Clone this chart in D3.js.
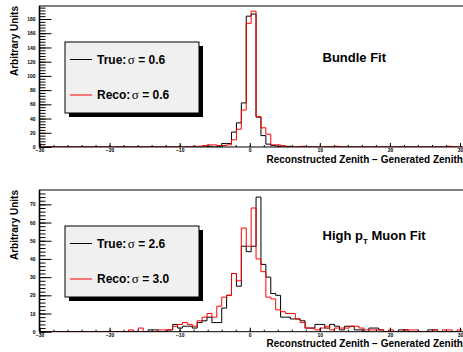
<!DOCTYPE html>
<html>
<head>
<meta charset="utf-8">
<script src="https://cdn.jsdelivr.net/npm/d3@7"></script>
<style>
  body { margin: 0; background: #fff; }
  svg { display: block; font-family: "Liberation Sans", Arial, sans-serif; font-weight: bold; }
</style>
</head>
<body>
<script>
// histogram binning (degrees)
const binLow = -29.9
const binWidth = 0.7
const xTicks = [-30, -20, -10, 0, 10, 20, 30]

const fitNames = ["Bundle Fit", "High pT Muon Fit"]
const sigmaTrue = ["0.6", "2.6"]
const sigmaReco = ["0.6", "3.0"]

// bundle fit, 86 bins
const bundleTrue = [
    0, 0, 0, 0, 0, 0, 0, 0, 0, 0,
    0, 0, 0, 0, 0, 0, 0, 0, 0, 0,
    0, 0, 0, 0, 0, 0, 0, 0, 0, 0,
    0, 0, 0, 0, 1, 0, 1, 5, 5, 21,
    34, 62, 184, 187, 42, 16, 4, 2, 1, 0,
    1, 0, 0, 0, 0, 0, 0, 0, 0, 0,
    0, 0, 0, 0, 0, 0, 0, 0, 0, 0,
    0, 0, 0, 0, 0, 0, 0, 0, 0, 0,
    0, 0, 0, 0, 0, 0
]
const bundleReco = [
    0, 0, 0, 0, 0, 0, 0, 0, 0, 0,
    0, 0, 0, 0, 0, 0, 0, 0, 0, 0,
    0, 0, 0, 0, 0, 0, 0, 0, 0, 0,
    0, 1, 1, 2, 3, 3, 2, 2, 3, 10,
    25, 52, 174, 191, 43, 27, 18, 3, 3, 2,
    0, 0, 0, 1, 0, 0, 0, 0, 0, 0,
    1, 0, 0, 0, 0, 0, 0, 0, 0, 0,
    0, 0, 0, 0, 0, 0, 0, 0, 0, 0,
    0, 0, 0, 1, 0, 0
]

// high pT muon fit, 86 bins
const muonTrue = [
    0, 0, 0, 0, 0, 0, 0, 0, 0, 0,
    0, 0, 0, 0, 0, 0, 0, 0, 0, 0,
    0, 0, 1, 1, 0, 0, 1, 4, 2, 3,
    3, 2, 5, 6, 8, 5, 5, 13, 20, 32,
    25, 47, 44, 47, 74, 37, 30, 21, 20, 8,
    8, 7, 7, 6, 2, 2, 4, 4, 2, 4,
    3, 1, 3, 3, 1, 1, 0, 2, 2, 1,
    0, 0, 0, 1, 1, 0, 0, 0, 0, 1,
    1, 0, 0, 0, 0, 0
]
const muonReco = [
    0, 0, 0, 0, 0, 0, 0, 0, 0, 0,
    0, 0, 0, 0, 0, 0, 0, 0, 1, 0,
    2, 0, 0, 0, 1, 1, 1, 3, 4, 5,
    4, 3, 6, 8, 10, 8, 14, 19, 20, 32,
    28, 57, 47, 68, 40, 33, 19, 18, 12, 11,
    10, 10, 7, 5, 2, 2, 1, 2, 3, 1,
    2, 2, 2, 3, 3, 2, 1, 1, 1, 1,
    0, 1, 0, 0, 1, 1, 1, 0, 0, 0,
    1, 0, 1, 1, 0, 1
]

const panels = [
    { top: 6, bottom: 147, yMax: 198.3, major: 20, minor: 4, t: bundleTrue, r: bundleReco, titleY: 61.5 },
    { top: 190, bottom: 331.7, yMax: 77.9, major: 10, minor: 2, t: muonTrue, r: muonReco, titleY: 240 }
]

const svg = d3.select("body").append("svg")
    .attr("width", 463)
    .attr("height", 352)

const x = d3.scaleLinear().domain([-30, 30]).range([39.5, 460])
const frameRight = 472

panels.forEach((p, i) => {
    const y = d3.scaleLinear().domain([0, p.yMax]).range([p.bottom, p.top])
    const g = svg.append("g")

    g.append("clipPath").attr("id", "clip" + i)
        .append("rect")
        .attr("x", x(-30)).attr("y", p.top)
        .attr("width", frameRight - x(-30)).attr("height", p.bottom - p.top)

    // histograms as steps
    const line = d3.line()
        .x((d) => x(d[0]))
        .y((d) => y(d[1]))
        .curve(d3.curveStepAfter)
    const steps = (vals) => vals.map((v, k) => [binLow + k * binWidth, v])
        .concat([[binLow + vals.length * binWidth, vals[vals.length - 1]]])

    g.append("path")
        .attr("d", line(steps(p.t)))
        .attr("clip-path", `url(#clip${i})`)
        .style("fill", "none").style("stroke", "#000").style("stroke-width", 1)
    g.append("path")
        .attr("d", line(steps(p.r)))
        .attr("clip-path", `url(#clip${i})`)
        .style("fill", "none").style("stroke", "#f00").style("stroke-width", 1)

    // frame
    g.append("rect")
        .attr("x", x(-30)).attr("y", p.top)
        .attr("width", frameRight - x(-30)).attr("height", p.bottom - p.top)
        .style("fill", "none").style("stroke", "#000").style("stroke-width", 1)
    g.append("line")
        .attr("x1", x(-30)).attr("x2", x(-30))
        .attr("y1", p.top).attr("y2", p.bottom)
        .style("stroke", "#000").style("stroke-width", 1.6)

    // y axis
    const yMajorTicks = d3.range(0, p.yMax, p.major)
    const yMinorTicks = d3.range(0, p.yMax, p.minor)
    g.append("g")
        .attr("transform", `translate(${x(-30)},0)`)
        .call(d3.axisLeft(y).tickValues(yMinorTicks).tickSize(-6).tickFormat(""))
        .call((a) => a.select(".domain").remove())
    g.append("g")
        .attr("transform", `translate(${x(-30)},0)`)
        .call(d3.axisLeft(y).tickValues(yMajorTicks).tickSize(-12).tickPadding(4))
        .call((a) => a.select(".domain").remove())
        .call((a) => a.selectAll("text").style("font-size", "5px").style("font-weight", "bold")
            .style("font-family", "Liberation Sans, Arial, sans-serif"))

    // x axis
    g.append("g")
        .attr("transform", `translate(0,${p.bottom})`)
        .call(d3.axisBottom(x).tickValues(d3.range(-30, 31, 2)).tickSize(-2).tickFormat(""))
        .call((a) => a.select(".domain").remove())
    g.append("g")
        .attr("transform", `translate(0,${p.bottom})`)
        .call(d3.axisBottom(x).tickValues(xTicks).tickSize(-4).tickPadding(1.8))
        .call((a) => a.select(".domain").remove())
        .call((a) => a.selectAll("text").style("font-size", "5px").style("font-weight", "bold")
            .style("font-family", "Liberation Sans, Arial, sans-serif"))

    // axis titles
    g.append("text")
        .attr("x", 266.5).attr("y", p.bottom + 15.5)
        .style("font-size", "10px")
        .text("Reconstructed Zenith \u2212 Generated Zenith")
    g.append("text")
        .attr("transform", `translate(17.5,${p.top}) rotate(-90)`)
        .attr("text-anchor", "end")
        .style("font-size", "10px")
        .text("Arbitrary Units")

    // legend with shadow
    const lx = 65, ly = p.top + 36, lw = 134, lh = 71
    g.append("rect").attr("x", lx + 4).attr("y", ly + 4).attr("width", lw).attr("height", lh)
        .style("fill", "#000")
    g.append("rect").attr("x", lx).attr("y", ly).attr("width", lw).attr("height", lh)
        .style("fill", "#f0f0f0").style("stroke", "#000").style("stroke-width", 1)

    const entries = [
        { label: "True:", sigma: sigmaTrue[i], color: "#000", dy: 17.5 },
        { label: "Reco:", sigma: sigmaReco[i], color: "#f00", dy: 53 }
    ]
    entries.forEach((e) => {
        g.append("line")
            .attr("x1", lx + 5).attr("x2", lx + 27)
            .attr("y1", ly + e.dy).attr("y2", ly + e.dy)
            .style("stroke", e.color).style("stroke-width", 1)
        const t = g.append("text")
            .attr("x", lx + 32).attr("y", ly + e.dy + 4.3)
            .style("font-size", "12px")
        t.append("tspan").text(e.label)
        t.append("tspan")
            .attr("dx", 1.5)
            .style("font-family", "Liberation Serif, serif").style("font-weight", "normal")
            .style("font-size", "13px")
            .text("\u03c3")
        t.append("tspan").text(" = " + e.sigma)
    })

    // panel title
    const title = g.append("text")
        .attr("x", 322.5).attr("y", p.titleY)
        .style("font-size", "13px")
    if (i === 0) {
        title.text(fitNames[0])
    } else {
        title.append("tspan").text("High p")
        title.append("tspan").attr("dy", 4).style("font-size", "8px").text("T")
        title.append("tspan").attr("dy", -4).text(" Muon Fit")
    }
})
</script>
</body>
</html>
